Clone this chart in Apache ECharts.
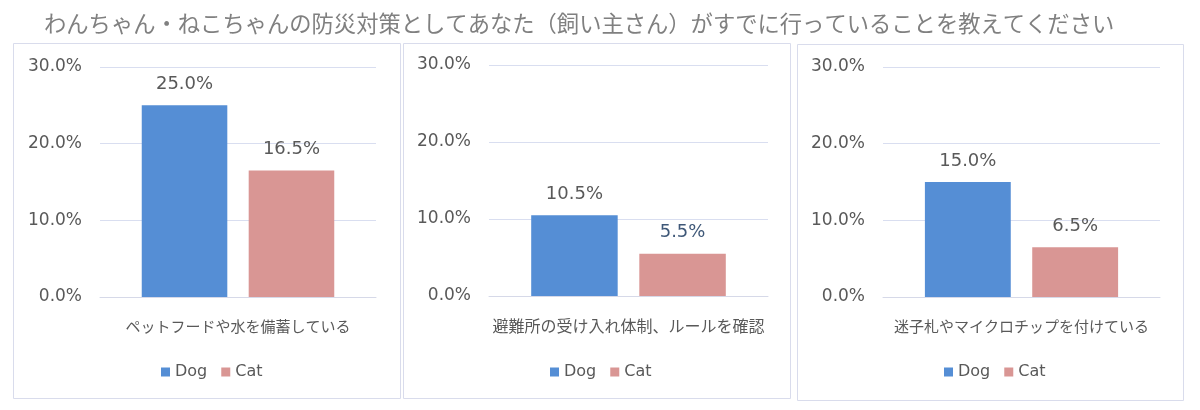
<!DOCTYPE html>
<html>
<head>
<meta charset="utf-8">
<script src="https://cdn.jsdelivr.net/npm/echarts@6/dist/echarts.min.js"></script>
<style>
html,body{margin:0;padding:0;background:#fff;}
#chart{width:1200px;height:410px;}
</style>
</head>
<body>
<div id="chart"></div>
<script>
const titleText = 'わんちゃん・ねこちゃんの防災対策としてあなた（飼い主さん）がすでに行っていることを教えてください';
const categories = ['ペットフードや水を備蓄している', '避難所の受け入れ体制、ルールを確認', '迷子札やマイクロチップを付けている'];
const seriesNames = ['Dog', 'Cat'];
const dogValues = [25.0, 10.5, 15.0];
const catValues = [16.5, 5.5, 6.5];
const yTicks = [0, 10, 20, 30];

const FONT = '"Noto Sans CJK JP", "Noto Sans", sans-serif';
const NUMFONT = '"DejaVu Sans", "Noto Sans", sans-serif';
const DOG_COLOR = '#558ED5';
const CAT_COLOR = '#D99694';
const TEXT = '#595959';

const grids = [
  {left: 100, top: 67, width: 276, height: 230},
  {left: 489, top: 65, width: 279, height: 231},
  {left: 883, top: 67, width: 277, height: 230}
];
const panels = [
  {x: 13, y: 43, w: 387, h: 355},
  {x: 403, y: 43, w: 387, h: 355},
  {x: 797, y: 44, w: 386, h: 356}
];
const legendLeft = [156, 545, 939];
const catFont = [15, 16, 15];
const catLabelColors = [TEXT, '#3F5878', TEXT];

const option = {
  backgroundColor: '#fff',
  animation: false,
  textStyle: {fontFamily: FONT},
  title: {
    text: titleText,
    left: 39, top: 7,
    textStyle: {fontFamily: FONT, fontSize: 22.3, fontWeight: 'normal', color: '#808080'}
  },
  graphic: panels.map(p => ({
    type: 'rect', silent: true, z: -1,
    shape: {x: p.x + 0.5, y: p.y + 0.5, width: p.w, height: p.h},
    style: {fill: 'none', stroke: '#D9DCEC', lineWidth: 1}
  })),
  legend: legendLeft.map(l => ({
    data: seriesNames,
    left: l, top: 359,
    icon: 'rect', itemWidth: 9, itemHeight: 9, itemGap: 14,
    textStyle: {fontFamily: NUMFONT, fontSize: 16, color: TEXT}
  })),
  grid: grids,
  xAxis: grids.map((g, i) => ({
    type: 'category', gridIndex: i,
    data: [categories[i]],
    axisTick: {show: false},
    axisLine: {lineStyle: {color: '#D6D9E8', width: 1}},
    axisLabel: {margin: 22 - (catFont[i]-15)/2, fontSize: catFont[i], color: TEXT, fontFamily: FONT, interval: 0}
  })),
  yAxis: grids.map((g, i) => ({
    type: 'value', gridIndex: i,
    min: yTicks[0], max: yTicks[yTicks.length - 1], interval: 10,
    axisLine: {show: false}, axisTick: {show: false},
    splitLine: {lineStyle: {color: '#D9DEF0', width: 1}},
    axisLabel: {margin: 18, fontSize: 17, color: TEXT, fontFamily: NUMFONT,
      formatter: v => v.toFixed(1) + '%'}
  })),
  series: []
};

for (let i = 0; i < 3; i++) {
  option.series.push({
    name: 'Dog', type: 'bar', xAxisIndex: i, yAxisIndex: i,
    data: [dogValues[i]],
    barWidth: '31%', barGap: '25%',
    itemStyle: {color: DOG_COLOR},
    label: {show: true, position: 'top', distance: 12, fontSize: 18, color: TEXT, fontFamily: NUMFONT,
      formatter: p => p.value.toFixed(1) + '%'}
  });
  option.series.push({
    name: 'Cat', type: 'bar', xAxisIndex: i, yAxisIndex: i,
    data: [catValues[i]],
    barWidth: '31%', barGap: '25%',
    itemStyle: {color: CAT_COLOR},
    label: {show: true, position: 'top', distance: 12, fontSize: 18, color: catLabelColors[i], fontFamily: NUMFONT,
      formatter: p => p.value.toFixed(1) + '%'}
  });
}

const chart = echarts.init(document.getElementById('chart'));
chart.setOption(option);
</script>
</body>
</html>
